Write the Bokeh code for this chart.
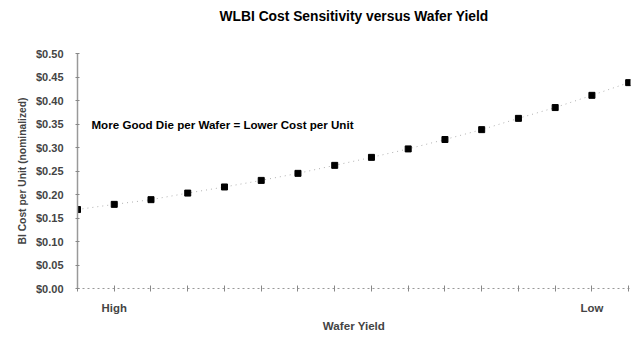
from bokeh.plotting import figure
from bokeh.models import FixedTicker, Label, NumeralTickFormatter, Range1d, Title
from bokeh.embed import file_html
from bokeh.resources import INLINE

# data
yield_index = list(range(16))
cost = [0.168, 0.179, 0.189, 0.203, 0.216, 0.230, 0.245, 0.262,
        0.279, 0.297, 0.317, 0.338, 0.362, 0.385, 0.411, 0.438]
x_tick_labels = {1: "High", 14: "Low"}
y_ticks = [0.0, 0.05, 0.10, 0.15, 0.20, 0.25, 0.30, 0.35, 0.40, 0.45, 0.50]
title_text = "WLBI Cost Sensitivity versus Wafer Yield"
note_text = "More Good Die per Wafer = Lower Cost per Unit"

FONT = "Liberation Sans"

p = figure(width=640, height=338, output_backend="svg", toolbar_location=None,
           x_range=Range1d(0, 15.05), y_range=Range1d(0, 0.5),
           min_border_left=77, min_border_right=10, min_border_top=53,
           min_border_bottom=50)
p.background_fill_color = "white"
p.border_fill_color = "white"
p.outline_line_color = None
p.grid.visible = False

p.title.text = title_text
p.title.align = "center"
p.title.text_font = FONT
p.title.text_font_size = "13.8px"
p.title.text_font_style = "bold"
p.title.text_color = "black"
p.title.offset = 0
p.title.standoff = 0

# empty spacer panel between title and plot area
p.add_layout(Title(text=" ", text_font_size="12px", standoff=14), "above")

p.line(yield_index, cost, line_color="#b0b0b0", line_width=1, line_dash="1 4")
p.scatter(yield_index, cost, marker="square", size=6, color="black")

# axes
xa = p.xaxis[0]
xa.ticker = FixedTicker(ticks=yield_index)
xa.major_label_overrides = {i: x_tick_labels.get(i, "") for i in yield_index}
xa.major_label_text_font = FONT
xa.major_label_text_font_style = "bold"
xa.major_label_text_font_size = "11.4px"
xa.major_label_standoff = 10
xa.axis_line_color = "#999999"
xa.axis_line_dash = "2 3"
xa.major_tick_line_color = "#888888"
xa.major_tick_in = 3
xa.major_tick_out = 3
xa.minor_tick_line_color = None
xa.axis_label = "Wafer Yield"
xa.axis_label_text_font = FONT
xa.axis_label_text_font_style = "bold"
xa.axis_label_text_font_size = "11.6px"
xa.axis_label_standoff = 2

ya = p.yaxis[0]
ya.ticker = FixedTicker(ticks=y_ticks)
ya.formatter = NumeralTickFormatter(format="$0.00")
ya.major_label_text_font = FONT
ya.major_label_text_font_style = "bold"
ya.major_label_text_font_size = "11px"
ya.major_label_standoff = 12
ya.axis_line_color = "#999999"
ya.axis_line_width = 1.5
ya.major_tick_line_color = "#888888"
ya.major_tick_in = 2
ya.major_tick_out = 2
ya.minor_tick_line_color = None
ya.axis_label = "BI Cost per Unit (nominalized)"
ya.axis_label_text_font = FONT
ya.axis_label_text_font_style = "bold"
ya.axis_label_text_font_size = "10.3px"
ya.axis_label_standoff = 5

p.add_layout(Label(x=0.38, y=0.349, text=note_text,
                   text_font=FONT, text_font_style="bold", text_font_size="11.6px",
                   text_baseline="middle", text_color="black"))

open("out.html", "w").write(file_html(p, INLINE))
